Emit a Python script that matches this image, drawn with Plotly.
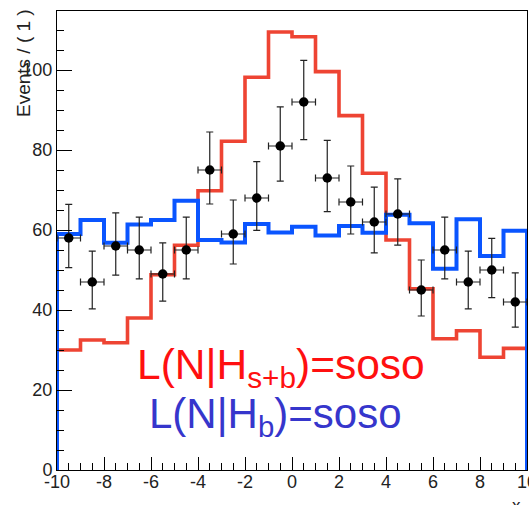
import plotly.graph_objects as go

# ---- data ----
bin_edges = [-10, -9, -8, -7, -6, -5, -4, -3, -2, -1, 0, 1, 2, 3, 4, 5, 6, 7, 8, 9, 10]
bin_centers = [-9.5, -8.5, -7.5, -6.5, -5.5, -4.5, -3.5, -2.5, -1.5, -0.5,
               0.5, 1.5, 2.5, 3.5, 4.5, 5.5, 6.5, 7.5, 8.5, 9.5]
model_sb = [30, 32.5, 31.8, 38, 48.8, 56.2, 69.8, 82.2, 98.2, 109.5,
            108.3, 99.6, 88.6, 74.2, 57.5, 45.3, 32.8, 34.8, 28.2, 30.4]
model_b = [59.0, 62.5, 56.8, 61.4, 62.5, 67.3, 57.5, 56.9, 61.5, 59.4,
           60.8, 58.6, 61.0, 59.3, 63.8, 61.7, 50.3, 62.7, 53.5, 59.8]
data_counts = [58, 47, 56, 55, 49, 55, 75, 59, 68, 81, 92, 73, 67, 62, 64, 45, 55, 47, 50, 42]
err_up = [8.4, 7.7, 8.3, 8.2, 7.8, 8.2, 9.5, 8.5, 9.1, 9.8, 10.4, 9.4, 9.0, 8.7, 8.8, 7.5, 8.2, 7.7, 7.9, 7.3]
err_lo = [7.4, 6.7, 7.3, 7.2, 6.8, 7.2, 8.5, 7.5, 8.1, 8.8, 9.4, 8.4, 8.0, 7.7, 7.8, 6.5, 7.2, 6.7, 6.9, 6.3]
bin_halfwidth = 0.5

y_ticks = [0, 20, 40, 60, 80, 100]
x_ticks = [-10, -8, -6, -4, -2, 0, 2, 4, 6, 8, 10]
x_ticklabels = ["-10", "-8", "-6", "-4", "-2", "0", "2", "4", "6", "8", "10"]

label_sb = "L(N|H<sub>s+b</sub>)=soso"
label_b = "L(N|H<sub>b</sub>)=soso"
y_title = "Events / ( 1 )"
x_title = "x"

RED = "#ee4433"
BLUE = "#0a55ff"
FONT = "Liberation Sans, Arial, Helvetica, sans-serif"


def step_xy(edges, vals):
    xs = [edges[0]] + list(edges[:-1]) + [edges[-1]]
    ys = [0] + list(vals) + [0]
    return xs, ys


fig = go.Figure()

xs, ys = step_xy(bin_edges, model_sb)
fig.add_trace(go.Scatter(x=xs, y=ys, mode="lines", line=dict(color=RED, width=3.6, shape="hv"),
                         hoverinfo="skip", showlegend=False, cliponaxis=False))
xs, ys = step_xy(bin_edges, model_b)
fig.add_trace(go.Scatter(x=xs, y=ys, mode="lines", line=dict(color=BLUE, width=4, shape="hv"),
                         hoverinfo="skip", showlegend=False, cliponaxis=False))

fig.add_trace(go.Scatter(
    x=bin_centers, y=data_counts, mode="markers",
    marker=dict(color="black", size=9.5),
    error_y=dict(type="data", symmetric=False, array=err_up, arrayminus=err_lo,
                 color="#222222", thickness=1.2, width=3.5),
    error_x=dict(type="constant", value=bin_halfwidth, color="#222222", thickness=1.2, width=3.5),
    showlegend=False,
))

fig.add_annotation(x=-6.7, y=25.7, xref="x", yref="y", text=label_sb, showarrow=False,
                   xanchor="left", yanchor="middle",
                   font=dict(family=FONT, size=42.5, color="#ff1010"))
fig.add_annotation(x=-6.18, y=13.3, xref="x", yref="y", text=label_b, showarrow=False,
                   xanchor="left", yanchor="middle",
                   font=dict(family=FONT, size=42, color="#3636cc"))

fig.add_annotation(x=0, y=1, xref="paper", yref="paper", text=y_title, showarrow=False,
                   textangle=-90, xanchor="center", yanchor="top", xshift=-34, yshift=4,
                   font=dict(family=FONT, size=19, color="#222222"))
fig.add_annotation(x=1, y=0, xref="paper", yref="paper", text=x_title, showarrow=False,
                   xanchor="right", yanchor="top", xshift=-4, yshift=-24,
                   font=dict(family=FONT, size=17, color="#222222"))

axis_common = dict(showgrid=False, zeroline=False, showline=True, linecolor="black",
                   linewidth=1, mirror=True, ticks="inside", tickcolor="black",
                   automargin=False, ticklabeloverflow="allow",
                   tickfont=dict(family=FONT, size=18, color="#222222"))

fig.update_xaxes(range=[-10, 10], tickvals=x_ticks, ticktext=x_ticklabels, ticklen=13,
                 ticklabelstandoff=-5,
                 minor=dict(dtick=0.5, ticklen=7, ticks="inside", tickcolor="black"),
                 **axis_common)
fig.update_yaxes(range=[0, 114.75], tickvals=y_ticks, ticklen=15,
                 minor=dict(dtick=5, ticklen=7, ticks="inside", tickcolor="black"),
                 **axis_common)

fig.update_layout(width=529, height=505,
                  margin=dict(l=57, r=2, t=11, b=35, pad=0, autoexpand=False),
                  plot_bgcolor="white", paper_bgcolor="white")

fig.write_html("out.html", config={"displayModeBar": False},
               post_script="document.body.style.margin='0';document.body.style.overflow='hidden';")
